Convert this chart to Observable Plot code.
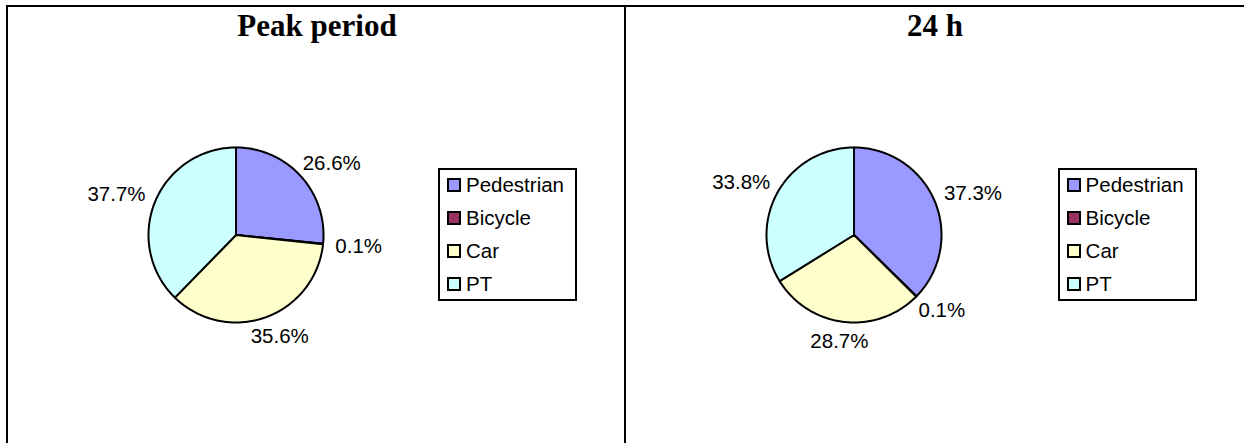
<!DOCTYPE html>
<html>
<head>
<meta charset="utf-8">
<script src="https://cdn.jsdelivr.net/npm/d3@7"></script>
<script src="https://cdn.jsdelivr.net/npm/@observablehq/plot@0.6"></script>
<style>
body{margin:0;background:#fff}
#wrap{position:absolute;left:5.7px;top:4.7px;width:1240px;height:440px;border-top:2px solid #000;border-left:2px solid #000;display:flex}
.panel{position:relative;height:440px;flex:none}
#p1{width:616.6px;border-right:2.4px solid #000}
#p2{width:617.3px}
.panel > svg{position:absolute;left:0;top:0;max-width:none}
.lgbox{position:absolute;top:161.3px;width:135px;height:129px;border:2px solid #000;background:#fff;overflow:hidden}
.lgbox > div{margin:-1.5px 0 0 0 !important;padding:0 0 0 8px;font:20.5px "Liberation Sans",Arial,sans-serif !important;color:#000}
.lgbox div[class$="-swatch"]{height:33px;padding:0 !important;margin:0 !important;display:flex;align-items:center}
.lgbox div[class$="-swatch"] svg{margin-right:6px !important;overflow:visible}
.lgbox div[class$="-swatch"] svg rect{stroke:#000;stroke-width:2px}
</style>
</head>
<body>
<div id="wrap">
  <div class="panel" id="p1"></div>
  <div class="panel" id="p2"></div>
</div>
<script>
const categories = ["Pedestrian", "Bicycle", "Car", "PT"];
const colors = ["#9999FF", "#993366", "#FFFFCC", "#CCFFFF"];
const panelTitles = ["Peak period", "24 h"];
const peakValues = [26.6, 0.1, 35.6, 37.7];
const dayValues = [37.3, 0.1, 28.7, 33.8];

const LABEL_FONT = "20.5px 'Liberation Sans'";
const ctx = document.createElement("canvas").getContext("2d");
ctx.font = LABEL_FONT;

function buildPie(values) {
  const arcs = d3.pie().sort(null).value(d => d)(values);
  const pts = [];
  const labels = [];
  const r = 87.5, R = 100, h = 0.716 * 20.5;
  arcs.forEach((a, i) => {
    const cat = categories[i];
    pts.push({cat, x: 0, y: 0});
    const n = Math.max(2, Math.ceil((a.endAngle - a.startAngle) / (Math.PI / 180)));
    for (let k = 0; k <= n; k++) {
      const t = a.startAngle + (a.endAngle - a.startAngle) * k / n;
      pts.push({cat, x: Math.sin(t), y: Math.cos(t)});
    }
    pts.push({cat, x: 0, y: 0});
    const text = values[i].toFixed(1) + "%";
    const w = ctx.measureText(text).width;
    const m = (a.startAngle + a.endAngle) / 2;
    labels.push({
      text,
      x: Math.sin(m) * (R + w / 2) / r,
      y: Math.cos(m) * (R + h / 2) / r
    });
  });
  return {pts, labels};
}

function drawPanel(el, title, values, legendLeft) {
  const {pts, labels} = buildPie(values);
  const C = 227.5, r = 87.5;
  const chart = Plot.plot({
    width: 617,
    height: 437,
    margin: 0,
    x: {domain: [-1, 1], range: [C - r, C + r], axis: null},
    y: {domain: [-1, 1], range: [C + r, C - r], axis: null},
    color: {domain: categories, range: colors},
    style: {background: "transparent", overflow: "visible", maxWidth: "none"},
    marks: [
      Plot.line(pts, {x: "x", y: "y", z: "cat", fill: "cat", stroke: "#000", strokeWidth: 2, strokeLinejoin: "round"}),
      Plot.text(labels, {x: "x", y: "y", text: "text", fontSize: 20.5, fontFamily: "'Liberation Sans', Arial, sans-serif", fill: "#000"}),
      Plot.text([title], {frameAnchor: "top", lineAnchor: "bottom", dy: 28.3, text: d => d, fontSize: 31, fontWeight: "bold", fontFamily: "'Liberation Serif', 'Times New Roman', serif", fill: "#000"})
    ]
  });
  el.appendChild(chart);
  const box = document.createElement("div");
  box.className = "lgbox";
  box.style.left = legendLeft + "px";
  box.appendChild(Plot.legend({color: {domain: categories, range: colors}, legend: "swatches", columns: 1, swatchSize: 12}));
  el.appendChild(box);
}

drawPanel(document.getElementById("p1"), panelTitles[0], peakValues, 430.3);
drawPanel(document.getElementById("p2"), panelTitles[1], dayValues, 431.3);
</script>
</body>
</html>
